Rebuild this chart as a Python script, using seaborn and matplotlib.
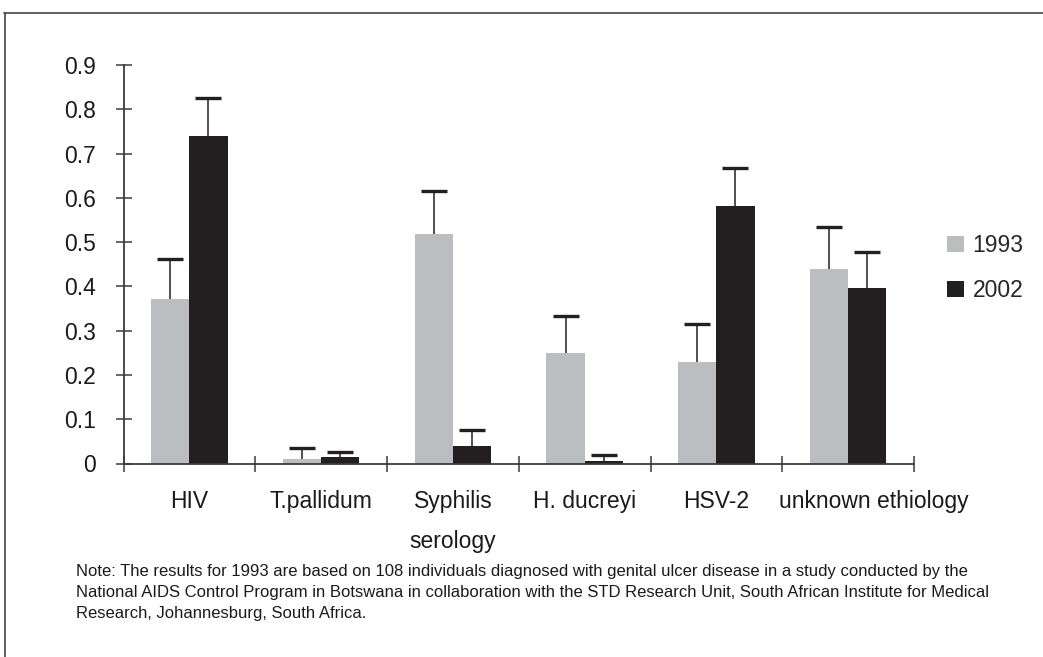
import numpy as np
import pandas as pd
import matplotlib
matplotlib.use("Agg")
import matplotlib.pyplot as plt
from matplotlib.lines import Line2D
from matplotlib.transforms import ScaledTranslation
import seaborn as sns

categories = ["HIV", "T.pallidum", "Syphilis\nserology", "H. ducreyi", "HSV-2", "unknown ethiology"]
years = ["1993", "2002"]
values_1993 = [0.371, 0.010, 0.518, 0.249, 0.229, 0.439]
values_2002 = [0.740, 0.014, 0.039, 0.005, 0.581, 0.396]
upper_1993 = [0.461, 0.036, 0.615, 0.334, 0.314, 0.535]
upper_2002 = [0.825, 0.027, 0.075, 0.020, 0.667, 0.477]
y_ticks = [0, 0.1, 0.2, 0.3, 0.4, 0.5, 0.6, 0.7, 0.8, 0.9]
y_tick_labels = ["0", "0.1", "0.2", "0.3", "0.4", "0.5", "0.6", "0.7", "0.8", "0.9"]
note = ("Note: The results for 1993 are based on 108 individuals diagnosed with genital ulcer disease in a study conducted by the\n"
        "National AIDS Control Program in Botswana in collaboration with the STD Research Unit, South African Institute for Medical\n"
        "Research, Johannesburg, South Africa.")

sns.set_theme(style="white")
plt.rcParams['font.family'] = ['Liberation Sans', 'DejaVu Sans']

GRAY = "#BCBDC1"
DARK = "#231F20"
AXC = "#3a3a3a"

df = pd.DataFrame({
    "category": categories * 2,
    "year": [years[0]] * len(categories) + [years[1]] * len(categories),
    "value": values_1993 + values_2002,
})
uppers = {years[0]: upper_1993, years[1]: upper_2002}
vals = {years[0]: values_1993, years[1]: values_2002}

W, H = 1043, 657
fig = plt.figure(figsize=(W / 100, H / 100), dpi=100)
ax = fig.add_axes([123.5 / W, (H - 463.5) / H, 790.5 / W, 398.5 / H])

sns.barplot(data=df, x="category", y="value", hue="year", order=categories,
            hue_order=years, palette=[GRAY, DARK], width=0.58, errorbar=None,
            saturation=1, linewidth=0, ax=ax, legend=True)

# error bars (upper only) drawn at bar centres
for cont, yr in zip(ax.containers, years):
    xs = [p.get_x() + p.get_width() / 2 for p in cont.patches]
    v = np.array(vals[yr])
    up = np.array(uppers[yr]) - v
    eb = ax.errorbar(xs, v, yerr=[np.zeros_like(up), up], fmt="none", ecolor=DARK,
                     elinewidth=1.1, capsize=9.5, capthick=2.4, zorder=3)
    caps = eb.lines[1]
    if len(caps) == 2:
        caps[0].set_visible(False)

ax.set_xlim(-0.5, len(categories) - 0.5)
ax.set_ylim(0, 0.9)
ax.set_yticks(y_ticks)
ax.set_yticklabels(y_tick_labels, fontsize=16.5, color="#1a1a1a")
ax.set_xticks(range(len(categories)))
ax.set_xticklabels(categories, fontsize=16.5, color="#1a1a1a", linespacing=1.95, va="top")
ax.set_xticks(np.arange(-0.5, len(categories), 1.0), minor=True)
ax.tick_params(axis="x", which="major", bottom=True, length=0, pad=19)
ax.tick_params(axis="x", which="minor", bottom=True, direction="inout", length=12, width=1.1, color=AXC)
ax.tick_params(axis="y", which="major", left=True, direction="inout", length=12, width=1.1, color=AXC, pad=14)
ax.set_xlabel("")
ax.set_ylabel("")
for s in ["top", "right"]:
    ax.spines[s].set_visible(False)
for s in ["left", "bottom"]:
    ax.spines[s].set_color(AXC)
    ax.spines[s].set_linewidth(1.3)
ax.set_facecolor("white")
ax.patch.set_alpha(0)

# shift last label right as in the reference
lbl = ax.get_xticklabels()[-1]
lbl.set_transform(lbl.get_transform() + ScaledTranslation(26 / 100, 0, fig.dpi_scale_trans))

handles, labels = ax.get_legend_handles_labels()
ax.legend(handles, labels, loc="upper left", bbox_to_anchor=(947 / W, (H - 234) / H),
          bbox_transform=fig.transFigure, frameon=False, fontsize=16.5,
          handlelength=0.72, handleheight=0.72, handletextpad=0.4, labelspacing=0.95,
          borderaxespad=0, borderpad=0)

fig.text(76 / W, (H - 564) / H, note, fontsize=12, color="#1a1a1a",
         va="top", ha="left", linespacing=1.5)

# outer frame (top and left edges)
fig.add_artist(Line2D([4 / W, 1.0], [(H - 13) / H] * 2, transform=fig.transFigure, color="#444", lw=1.2))
fig.add_artist(Line2D([5 / W] * 2, [0, (H - 13) / H], transform=fig.transFigure, color="#444", lw=1.2))

fig.savefig("out.png", dpi=100, facecolor="white")
